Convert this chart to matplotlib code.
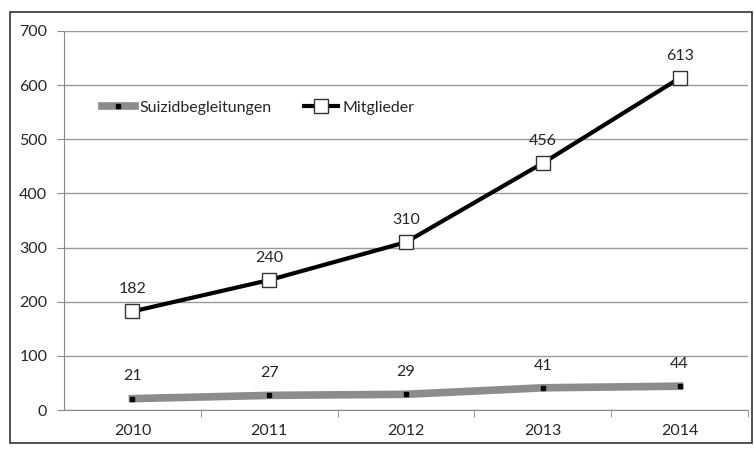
import matplotlib
matplotlib.use("Agg")
import matplotlib.pyplot as plt
from matplotlib.patches import Rectangle

years = ["2010", "2011", "2012", "2013", "2014"]
suizid = [21, 27, 29, 41, 44]
mitglieder = [182, 240, 310, 456, 613]
y_ticks = [0, 100, 200, 300, 400, 500, 600, 700]

plt.rcParams["font.family"] = ["Lato", "DejaVu Sans"]
txt = "#262626"

fig = plt.figure(figsize=(7.54, 4.53), dpi=100)
ax = fig.add_axes([64 / 754, 1 - 410 / 453, 684 / 754, 379 / 453])

x = list(range(len(years)))
ax.plot(x, suizid, color="#8c8c8c", lw=5.5, marker="s", ms=3.5,
        mfc="black", mec="black", label="Suizidbegleitungen", zorder=3)
ax.plot(x, mitglieder, color="black", lw=3, marker="s", ms=10.5,
        mfc="white", mec="#333333", mew=1.0, label="Mitglieder", zorder=4)

for xi, v in zip(x, suizid):
    ax.annotate(str(v), (xi, v), xytext=(0, 11), textcoords="offset points",
                ha="center", va="bottom", fontsize=11.5, color=txt)
for xi, v in zip(x, mitglieder):
    ax.annotate(str(v), (xi, v), xytext=(0, 11), textcoords="offset points",
                ha="center", va="bottom", fontsize=11.5, color=txt)

ax.set_xlim(-0.5, len(years) - 0.5)
ax.set_ylim(0, 700)
ax.set_yticks(y_ticks)
ax.set_yticklabels([str(t) for t in y_ticks])
ax.set_xticks(x)
ax.set_xticklabels(years)
ax.set_xticks([i + 0.5 for i in range(len(years))], minor=True)
ax.tick_params(axis="x", which="major", length=0, pad=10, labelsize=11.5, colors=txt)
ax.tick_params(axis="x", which="minor", length=5, color="#888888", direction="out")
ax.tick_params(axis="y", length=5, color="#888888", labelsize=11.5, colors=txt, pad=7)
ax.yaxis.grid(True, color="#999999", lw=1)
ax.set_axisbelow(True)
for s in ["top", "right"]:
    ax.spines[s].set_visible(False)
ax.spines["left"].set_color("#888888")
ax.spines["bottom"].set_color("#888888")

leg = ax.legend(loc="center left", bbox_to_anchor=(0.055, 0.797), ncol=2, frameon=False,
                fontsize=11.5, handlelength=2.1, columnspacing=2.0, handletextpad=0.3,
                borderaxespad=0, borderpad=0)
for t in leg.get_texts():
    t.set_color(txt)

fig.patches.append(Rectangle((10 / 754, 1 - 443 / 453), 742 / 754, 431 / 453,
                             transform=fig.transFigure, fill=False,
                             edgecolor="#333333", lw=1.2))

fig.savefig("out.png", dpi=100)
